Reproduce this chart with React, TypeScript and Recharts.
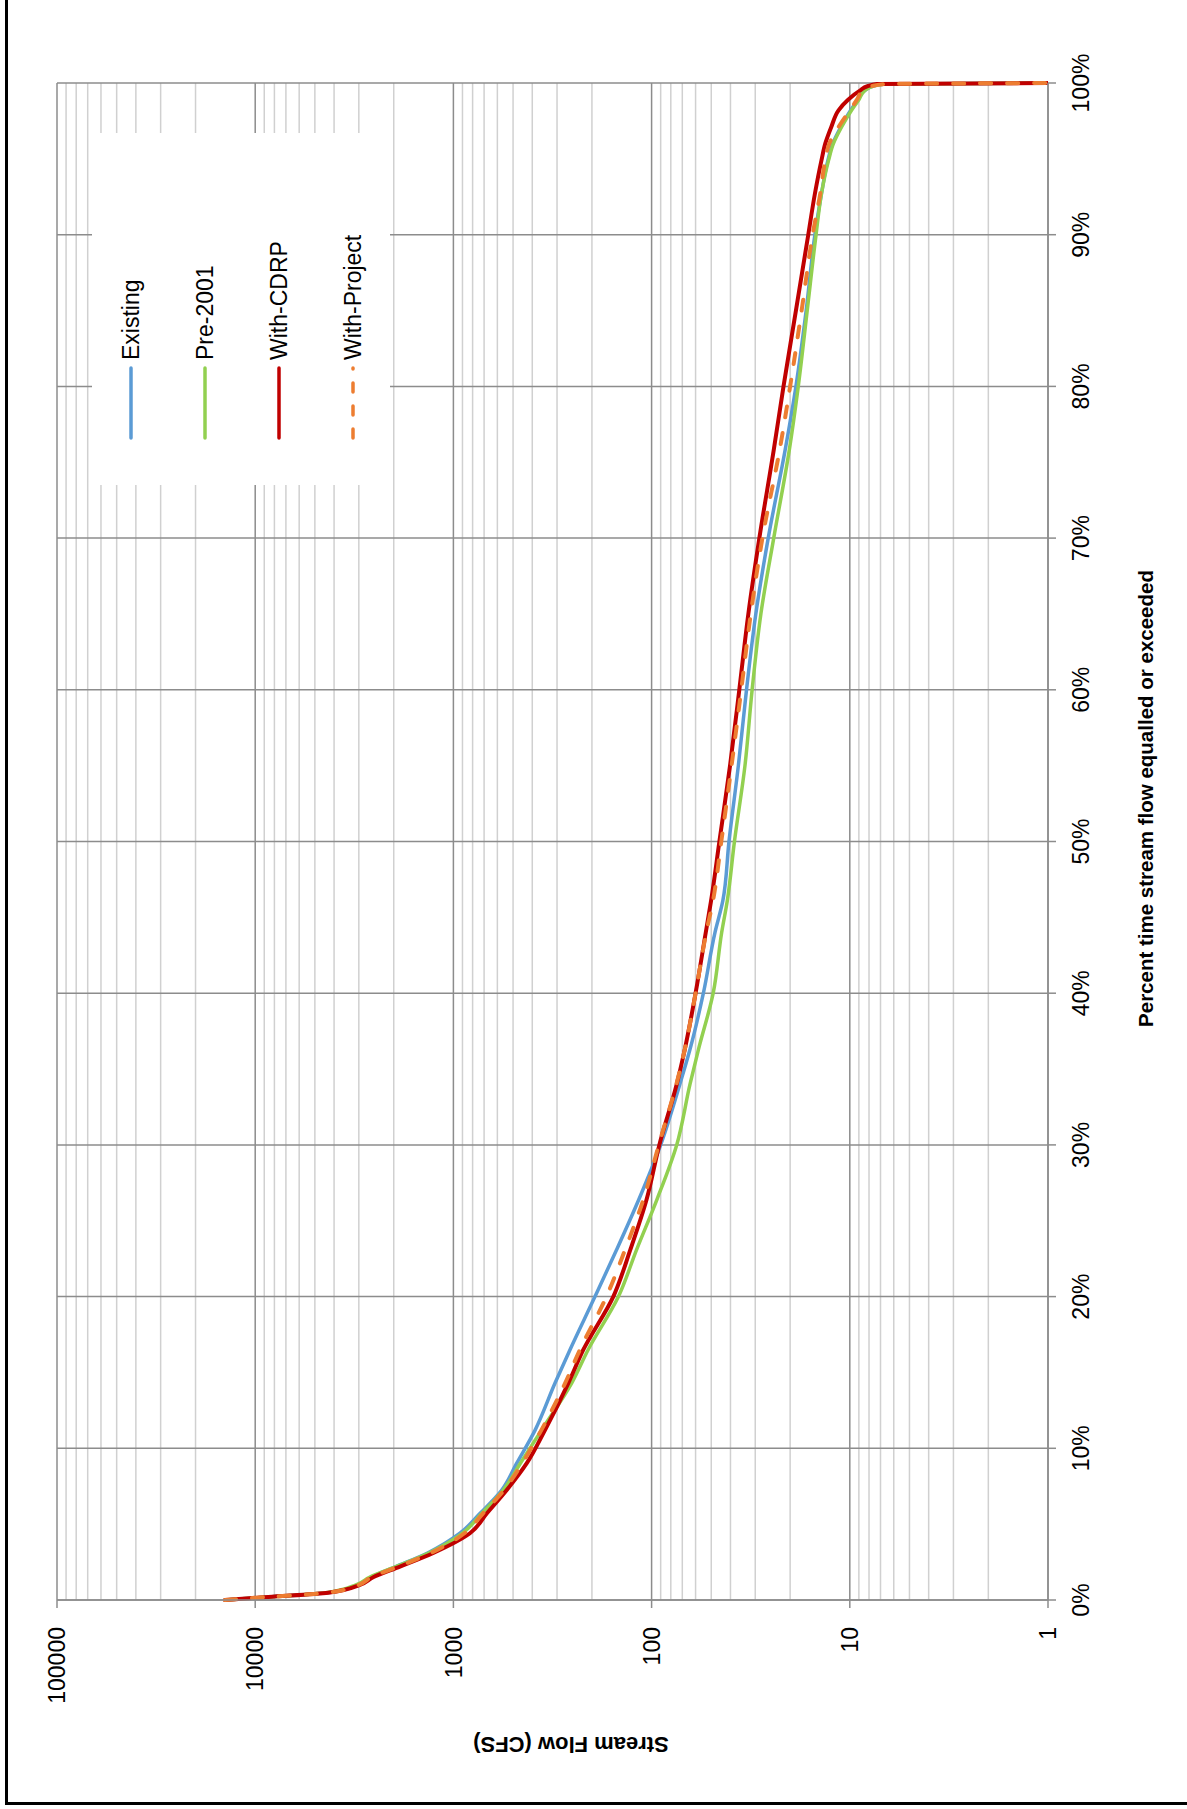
import React from 'react';
import { LineChart, Line, XAxis, YAxis, CartesianGrid, Legend } from 'recharts';

const PCT = [0, 0.2, 0.48, 1.0, 1.5, 2.2, 3.1, 4.4, 5.7, 7.25, 9.0, 11.2, 14.3, 16.5, 20, 23.1, 26.4, 30, 34, 36.3, 40, 44, 46.1, 50, 55, 60, 65, 70, 75.8, 80, 85, 90, 92.7, 94.9, 96, 97.1, 98.2, 98.9, 99.5, 99.8, 99.93, 100];
const EXISTING = [14200, 8600, 4300, 3000, 2600, 1950, 1350, 927, 735, 570, 480, 387, 307, 258, 193, 150, 116, 90, 72, 64, 54.8, 47.9, 43.7, 40.7, 36.5, 33.2, 29.8, 25.8, 21.2, 18.7, 16.6, 15.0, 13.9, 12.9, 12.2, 11.1, 9.9, 9.1, 8.4, 7.6, 6.5, 1];
const PRE_2001 = [14200, 8600, 4400, 3100, 2650, 1950, 1330, 900, 720, 560, 460, 359, 253, 209, 147, 119, 94, 74.7, 64, 58, 48.9, 44.3, 41.5, 38.2, 33.8, 31.1, 28.1, 24.2, 20.2, 18.2, 16.4, 14.8, 13.9, 12.8, 12.1, 11.0, 9.8, 9.0, 8.4, 7.6, 6.5, 1];
const WITH_CDRP = [14200, 8600, 4280, 2960, 2540, 1860, 1263, 825, 679, 538, 427, 345, 263, 221, 156, 128, 106, 91.4, 74.7, 68, 60, 53.3, 50.1, 45.5, 40.2, 36.1, 32.5, 28.6, 24.2, 21.6, 18.7, 16.2, 15.0, 13.9, 13.3, 12.4, 11.4, 10.2, 8.9, 8.1, 7.3, 1];
const WITH_PROJECT = [14200, 8600, 4300, 3000, 2600, 1900, 1300, 880, 710, 555, 450, 360, 273, 230, 169, 136, 110, 92, 75, 68, 60, 53, 49, 44.5, 39.5, 35.3, 31.6, 27.6, 22.6, 20.0, 17.5, 15.4, 14.1, 13.3, 12.7, 11.4, 10.0, 9.2, 8.6, 7.7, 6.6, 1];

const PCT_TICKS = [0, 10, 20, 30, 40, 50, 60, 70, 80, 90, 100];
const FLOW_TICKS = [1, 10, 100, 1000, 10000, 100000];
const MINOR_MULT = [2, 3, 4, 5, 6, 7, 8, 9];
const MINOR_FLOW = FLOW_TICKS.slice(0, -1).flatMap((d) => MINOR_MULT.map((m) => m * d));

const SERIES = [
  { key: 'existing', name: 'Existing', color: '#5B9BD5', width: 3.5, dash: undefined as string | undefined },
  { key: 'pre2001', name: 'Pre-2001', color: '#92D050', width: 3.5, dash: undefined as string | undefined },
  { key: 'cdrp', name: 'With-CDRP', color: '#C00000', width: 4, dash: undefined as string | undefined },
  { key: 'project', name: 'With-Project', color: '#ED7D31', width: 4, dash: '11 16' },
];

const data = PCT.map((p, i) => ({
  pct: p,
  existing: EXISTING[i],
  pre2001: PRE_2001[i],
  cdrp: WITH_CDRP[i],
  project: WITH_PROJECT[i],
}));

const FONT = '"Liberation Sans", Arial, sans-serif';
const MAJOR = '#8c8c8c';
const MINOR = '#d0d0d0';

const W = 1809;
const H = 1187;

const renderLegend = (props: any) => {
  const payload = props.payload || [];
  return (
    <svg width={352} height={298} style={{ display: 'block', background: '#fff' }}>
      {payload.map((e: any, i: number) => {
        const cfg = SERIES.find((s) => s.name === e.value) || SERIES[i];
        const cy = 39 + i * 74;
        return (
          <g key={cfg.key}>
            <line x1={47} x2={117} y1={cy} y2={cy} stroke={cfg.color} strokeWidth={3.5}
              strokeLinecap="round" strokeDasharray={cfg.dash ? '9 14' : undefined} />
            <text x={125} y={cy + 8} fontSize={23} fontFamily={FONT} fill="#000">{e.value}</text>
          </g>
        );
      })}
    </svg>
  );
};

export default function App() {
  return (
    <div style={{ position: 'absolute', left: 0, top: 0, width: 1187, height: 1809, overflow: 'hidden', background: '#fff' }}>
      <div style={{ position: 'absolute', left: 5, top: 0, width: 3, height: 1805, background: '#000' }} />
      <div style={{ position: 'absolute', left: 5, top: 1802, width: 1182, height: 3, background: '#000' }} />
      <div style={{ position: 'absolute', left: 0, top: 0, width: W, height: H, transformOrigin: '0 0', transform: `translate(0px, ${W}px) rotate(-90deg)` }}>
        <LineChart width={W} height={H} data={data} margin={{ top: 57, right: 83, bottom: 0, left: 0 }} style={{ fontFamily: FONT }}>
          <CartesianGrid vertical={false} horizontalValues={MINOR_FLOW} stroke={MINOR} strokeWidth={1.5} />
          <CartesianGrid stroke={MAJOR} strokeWidth={1.5} />
          <XAxis
            type="number"
            dataKey="pct"
            domain={[0, 100]}
            ticks={PCT_TICKS}
            tickFormatter={(v: number) => `${v}%`}
            height={139}
            tickSize={8}
            tickMargin={17}
            axisLine={{ stroke: MAJOR, strokeWidth: 1.5 }}
            tickLine={{ stroke: MAJOR, strokeWidth: 1.5 }}
            tick={{ fill: '#000', fontSize: 23, fontFamily: FONT }}
            interval={0}
            label={{ value: 'Percent time stream flow equalled or exceeded', position: 'insideBottom', offset: 34, dx: 43, style: { fontWeight: 'bold', fontSize: 20.5, fill: '#000', fontFamily: FONT } }}
          />
          <YAxis
            type="number"
            scale="log"
            domain={[1, 100000]}
            ticks={FLOW_TICKS}
            allowDataOverflow
            width={209}
            tickSize={8}
            tickMargin={19}
            axisLine={{ stroke: MAJOR, strokeWidth: 1.5 }}
            tickLine={{ stroke: MAJOR, strokeWidth: 1.5 }}
            tick={{ fill: '#000', fontSize: 23, fontFamily: FONT }}
            interval={0}
            label={{ value: 'Stream Flow (CFS)', angle: -90, position: 'insideLeft', offset: 64, dy: 18.5, style: { textAnchor: 'middle', fontWeight: 'bold', fontSize: 22, fill: '#000', fontFamily: FONT } }}
          />
          <Legend
            layout="vertical"
            align="center"
            verticalAlign="middle"
            content={renderLegend}
            wrapperStyle={{ left: 1324, top: 92, width: 352, height: 298 }}
          />
          {SERIES.map((s) => (
            <Line
              key={s.key}
              type="monotone"
              dataKey={s.key}
              name={s.name}
              stroke={s.color}
              strokeWidth={s.width}
              strokeDasharray={s.dash}
              strokeLinecap="round"
              dot={false}
              activeDot={false}
              isAnimationActive={false}
            />
          ))}
        </LineChart>
      </div>
    </div>
  );
}
